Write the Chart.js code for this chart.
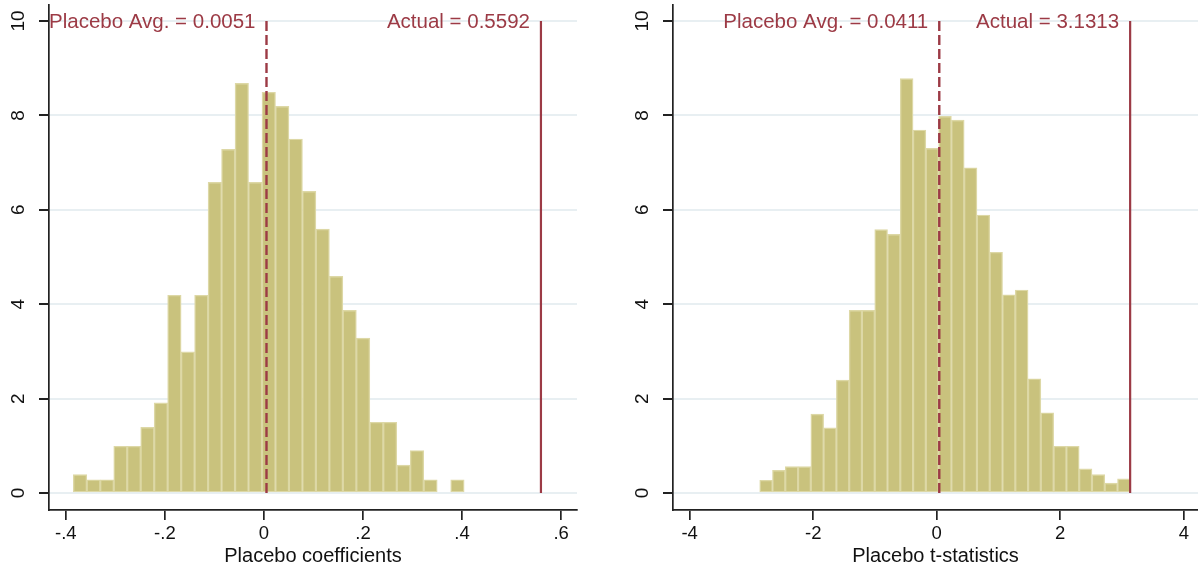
<!DOCTYPE html>
<html>
<head>
<meta charset="utf-8">
<script src="https://cdn.jsdelivr.net/npm/chart.js@4.4.1/dist/chart.umd.min.js"></script>
<style>
  html, body { margin: 0; padding: 0; background: #fff; }
  .panel { position: absolute; top: 0; height: 569px; }
  #left { left: 0; width: 600px; }
  #right { left: 600px; width: 598px; }
</style>
</head>
<body>
<div class="panel" id="left"><canvas id="chart1"></canvas></div>
<div class="panel" id="right"><canvas id="chart2"></canvas></div>
<script>
// Left panel: placebo coefficients (histogram densities)
const coefBinStart = -0.3849;
const coefBinWidth = 0.02721;
const coefDensity = [0.39, 0.28, 0.28, 0.99, 0.99, 1.39, 1.91, 4.19, 2.99, 4.19,
                     6.58, 7.28, 8.68, 6.58, 8.49, 8.19, 7.50, 6.39, 5.59, 4.59,
                     3.87, 3.28, 1.50, 1.50, 0.59, 0.90, 0.28, 0, 0.28];
const coefPlaceboAvg = 0.0051;
const coefActual = 0.5592;
const coefXTicks = [-0.4, -0.2, 0, 0.2, 0.4, 0.6];

// Right panel: placebo t-statistics
const tBinStart = -2.866;
const tBinWidth = 0.2069;
const tDensity = [0.27, 0.48, 0.56, 0.56, 1.67, 1.38, 2.39, 3.87, 3.87, 5.58,
                  5.48, 8.78, 7.69, 7.30, 7.98, 7.90, 6.89, 5.89, 5.10, 4.20,
                  4.30, 2.42, 1.70, 0.99, 0.99, 0.51, 0.39, 0.21, 0.30];
const tPlaceboAvg = 0.0411;
const tActual = 3.1313;
const tXTicks = [-4, -2, 0, 2, 4];

const yTicks = [0, 2, 4, 6, 8, 10];

const RED = '#9c3a45';
const FONT = '"Liberation Sans", Arial, sans-serif';

Chart.defaults.font.family = FONT;
Chart.defaults.color = '#111';

// text next to the two vertical lines
const lineLabels = {
    id: 'lineLabels',
    afterDatasetsDraw(chart, args, opts) {
        const ctx = chart.ctx;
        const xs = chart.scales.x, ys = chart.scales.y;
        ctx.save();
        ctx.font = '20.5px ' + FONT;
        ctx.fillStyle = RED;
        ctx.textAlign = 'right';
        ctx.textBaseline = 'middle';
        opts.items.forEach(function(it) {
            ctx.fillText(it.text, xs.getPixelForValue(it.value) - 11, ys.getPixelForValue(10) + 1);
        });
        ctx.restore();
    }
};

function stataDecimal(v) {
    if (v === 0) return '0';
    return v.toFixed(1).replace('0.', '.');
}

function makeHist(id, p) {
    const bars = p.density.map(function(h, i) {
        return { x: p.binStart + (i + 0.5) * p.binWidth, y: h === 0 ? null : h };
    });
    return new Chart(document.getElementById(id), {
        type: 'bar',
        data: {
            datasets: [{
                type: 'line',
                data: [{ x: p.avg, y: 0 }, { x: p.avg, y: 10 }],
                borderColor: RED,
                borderWidth: 2.4,
                borderDash: [10, 4],
                pointRadius: 0,
                order: 1
            }, {
                type: 'line',
                data: [{ x: p.actual, y: 0 }, { x: p.actual, y: 10 }],
                borderColor: RED,
                borderWidth: 2.2,
                pointRadius: 0,
                order: 1
            }, {
                data: bars,
                backgroundColor: '#c9c27d',
                borderColor: '#ddd8a6',
                borderWidth: 1.4,
                borderSkipped: false,
                barPercentage: 1,
                categoryPercentage: 1,
                order: 2
            }]
        },
        options: {
            responsive: true,
            maintainAspectRatio: false,
            animation: false,
            events: [],
            layout: { padding: { top: 5, right: p.padRight, left: 0, bottom: 0 } },
            plugins: {
                legend: { display: false },
                tooltip: { enabled: false },
                lineLabels: { items: [
                    { value: p.avg, text: 'Placebo Avg. = ' + p.avg.toFixed(4) },
                    { value: p.actual, text: 'Actual = ' + p.actual.toFixed(4) }
                ] }
            },
            scales: {
                x: {
                    type: 'linear',
                    min: p.xMin,
                    max: p.xMax,
                    offset: false,
                    afterBuildTicks: function(s) { s.ticks = p.xTicks.map(v => ({ value: v })); },
                    afterFit: function(s) { s.height = 59; s.paddingLeft = 0; s.paddingRight = 0; },
                    ticks: { font: { size: 18.5 }, padding: 3, maxRotation: 0, callback: p.fmt },
                    grid: { offset: false, drawOnChartArea: false, tickLength: 10, tickColor: '#222', lineWidth: 1.7 },
                    border: { color: '#222', width: 1.7 },
                    title: { display: true, text: p.title, font: { size: 20 }, padding: { top: 0, bottom: 1 } }
                },
                y: {
                    min: -0.36,
                    max: 10.339,
                    afterBuildTicks: function(s) { s.ticks = yTicks.map(v => ({ value: v })); },
                    afterFit: function(s) { s.width = p.yWidth; s.paddingTop = 0; s.paddingBottom = 0; },
                    ticks: { font: { size: 19 }, padding: 10, minRotation: 90, maxRotation: 90, crossAlign: 'center' },
                    grid: { color: '#e8eff2', lineWidth: 2, tickLength: 10, tickColor: '#222' },
                    border: { color: '#222', width: 1.7 }
                }
            }
        },
        plugins: [lineLabels]
    });
}

makeHist('chart1', {
    density: coefDensity, binStart: coefBinStart, binWidth: coefBinWidth,
    avg: coefPlaceboAvg, actual: coefActual,
    xMin: -0.434, xMax: 0.632, xTicks: coefXTicks, fmt: stataDecimal,
    title: 'Placebo coefficients', yWidth: 49, padRight: 23
});

makeHist('chart2', {
    density: tDensity, binStart: tBinStart, binWidth: tBinWidth,
    avg: tPlaceboAvg, actual: tActual,
    xMin: -4.27, xMax: 4.23, xTicks: tXTicks, fmt: function(v) { return String(v); },
    title: 'Placebo t-statistics', yWidth: 73, padRight: 0
});
</script>
</body>
</html>
